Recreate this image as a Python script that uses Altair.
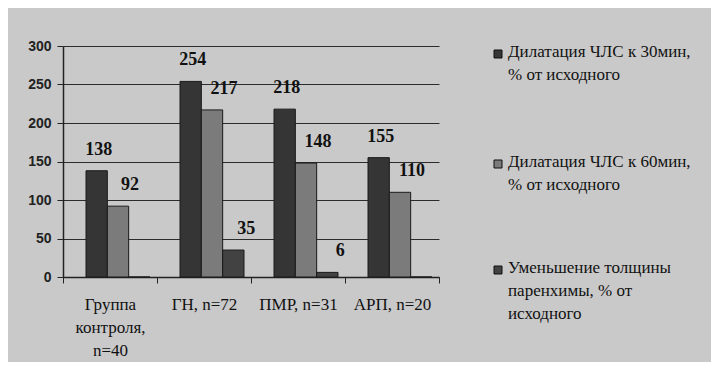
import altair as alt
import pandas as pd

categories = ["Группа\nконтроля,\nn=40", "ГН, n=72", "ПМР, n=31", "АРП, n=20"]
series = [
    "Дилатация ЧЛС к 30мин,\n% от исходного",
    "Дилатация ЧЛС к 60мин,\n% от исходного",
    "Уменьшение толщины\nпаренхимы, % от\nисходного",
]
dil30 = [138, 254, 218, 155]
dil60 = [92, 217, 148, 110]
thin = [0, 35, 6, 0]
colors = ["#353535", "#7b7b7b", "#424242"]

SERIF = "Times New Roman, Liberation Serif, DejaVu Serif, serif"

rows = []
for vals, s in zip([dil30, dil60, thin], series):
    for c, v in zip(categories, vals):
        rows.append({"cat": c, "series": s, "value": v})
df = pd.DataFrame(rows)

x = alt.X(
    "cat:N",
    sort=categories,
    title=None,
    scale=alt.Scale(range=[0, 376], paddingInner=0, paddingOuter=0),
    axis=alt.Axis(
        labelExpr="split(datum.label, '\\n')",
        labelAngle=0,
        labelPadding=13,
        labelLineHeight=23,
        labelBaseline="top",
        tickBand="extent",
        grid=False,
    ),
)
xoff = alt.XOffset(
    "series:N",
    sort=series,
    scale=alt.Scale(range=[23, 87], paddingInner=0, paddingOuter=0),
)
y = alt.Y(
    "value:Q",
    title=None,
    scale=alt.Scale(domain=[0, 300], nice=False),
    axis=alt.Axis(values=[0, 50, 100, 150, 200, 250, 300], labelOverlap=False),
)
color = alt.Color(
    "series:N",
    sort=series,
    scale=alt.Scale(domain=series, range=colors),
    legend=None,
)

bars = alt.Chart(df).mark_bar(stroke="#1a1a1a", strokeWidth=1).encode(
    x=x, xOffset=xoff, y=y, color=color
)

label_dx = [2, 12, 13]
label_layers = []
for s, dx in zip(series, label_dx):
    label_layers.append(
        alt.Chart(df)
        .transform_filter((alt.datum.series == s) & (alt.datum.value > 0))
        .mark_text(
            dy=-21,
            dx=dx,
            font=SERIF,
            fontWeight="bold",
            fontSize=18,
            color="#111111",
        )
        .encode(x=x, xOffset=xoff, y=y, text=alt.Text("value:Q"))
    )

# legend drawn as marks (symbol + multi-line label)
legend_y = [8, 118, 224]
legend_layers = []
leg_df = pd.DataFrame({"series": series})
for s, ly in zip(series, legend_y):
    base = alt.Chart(leg_df).transform_filter(alt.datum.series == s)
    legend_layers.append(
        base.mark_square(size=64, stroke="#111111", strokeWidth=1, opacity=1).encode(
            x=alt.value(435),
            y=alt.value(ly),
            color=alt.Color("series:N", scale=alt.Scale(domain=series, range=colors), legend=None),
        )
    )
    legend_layers.append(
        base.mark_text(
            align="left",
            baseline="top",
            lineBreak="\n",
            lineHeight=23,
            font=SERIF,
            fontSize=17,
            color="#111111",
        ).encode(x=alt.value(445), y=alt.value(ly - 10), text="series:N")
    )

chart = (
    alt.layer(bars, *label_layers, *legend_layers)
    .properties(
        width=392,
        height=231,
        background="#c9c9c9",
        padding={"left": 55, "top": 38, "right": 256, "bottom": 85},
        autosize=alt.AutoSizeParams(type="none"),
    )
    .configure_view(stroke=None)
    .configure_axisX(
        labelFont=SERIF,
        labelFontSize=17,
        labelColor="#111111",
        tickColor="#222222",
        tickSize=6,
        domainColor="#222222",
        domainWidth=1.5,
    )
    .configure_axisY(
        labelFont="Liberation Sans",
        labelFontWeight="bold",
        labelFontSize=14,
        labelColor="#222222",
        labelPadding=6,
        tickColor="#222222",
        tickSize=6,
        domainColor="#222222",
        domainWidth=1.5,
        gridColor="#2c2c2c",
        gridWidth=1.2,
    )
)

chart.save("out.html", embed_options={"renderer": "svg", "actions": False})
